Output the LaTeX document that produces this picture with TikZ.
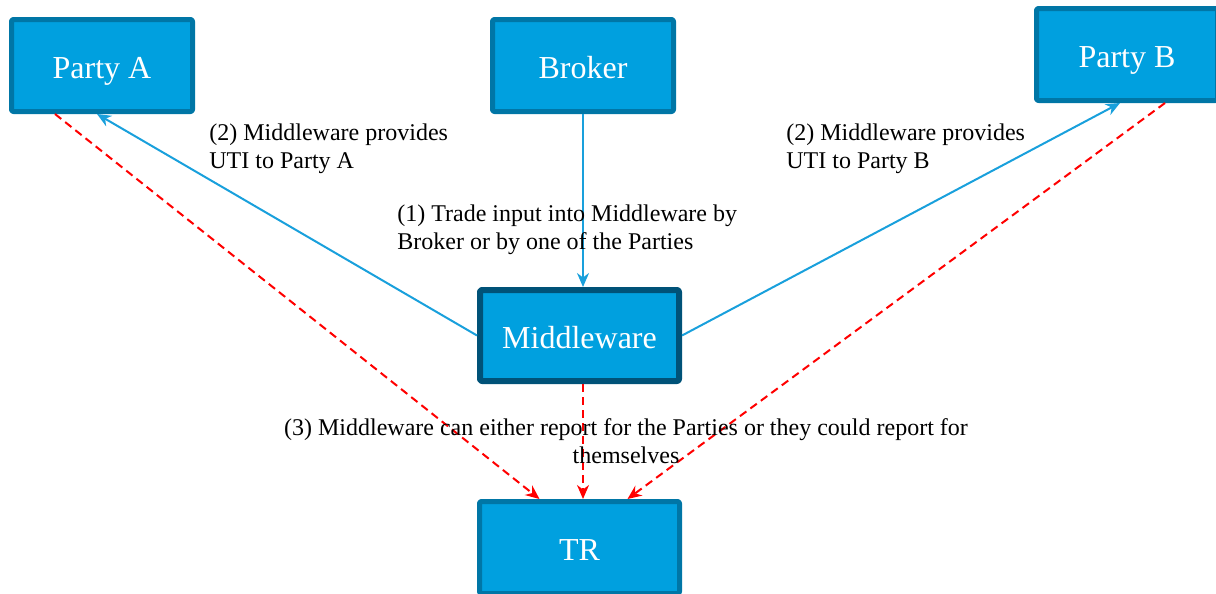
\documentclass[tikz,border=0pt]{standalone}
\usepackage{fontspec}
\setmainfont{Liberation Serif}
\usetikzlibrary{arrows.meta}
\definecolor{boxfill}{RGB}{0,160,223}
\definecolor{boxline}{RGB}{0,118,166}
\definecolor{mwline}{RGB}{0,82,120}
\definecolor{flowblue}{RGB}{25,160,220}
\begin{document}
\begin{tikzpicture}[x=0.5pt, y=-0.5pt, font=\fontsize{12}{14}\selectfont, line join=round, >={Stealth[length=7pt,width=6pt]},
	box/.style={draw=boxline, fill=boxfill, line width=2.5pt, rounded corners=1pt, minimum width=90.5pt, minimum height=46pt, text height=13pt, text depth=0pt, text=white, font=\fontsize{16}{19}\selectfont},
	wide/.style={box, minimum width=100pt},
	flow/.style={->, draw=flowblue, line width=1pt},
	rep/.style={->, draw=red, dashed, dash pattern=on 4pt off 2.5pt, line width=1pt},
	lbl/.style={inner sep=0pt, align=left, anchor=west}]
	\useasboundingbox (0,0) rectangle (1216,594);
	% boxes
	\node[box] (partyA) at (102,65.5) {Party A};
	\node[box] (broker) at (583,65.5) {Broker};
	\node[box] (partyB) at (1127,54.5) {Party B};
	\node[wide, draw=mwline, line width=3pt, minimum height=45.5pt, minimum width=99.5pt] (mw) at (579.5,335.5) {Middleware};
	\node[wide] (tr) at (579.5,547.5) {TR};
	% flows
	\draw[flow] (broker.south) -- (broker.south |- mw.north);
	\draw[flow] (mw.west) -- ([xshift=-2.5pt]partyA.south);
	\draw[flow] (mw.east) -- ([xshift=-3.5pt]partyB.south);
	% reporting
	\draw[rep] ([xshift=-23.5pt]partyA.south) -- ([xshift=-20pt]tr.north);
	\draw[rep] ([xshift=1.75pt]mw.south) -- ([xshift=1.75pt]tr.north);
	\draw[rep] ([xshift=19pt]partyB.south) -- ([xshift=24pt]tr.north);
	% labels
	\node[lbl] (lblA) at (209,149) {(2) Middleware provides\\UTI to Party A};
	\node[lbl] (lblB) at (786,149) {(2) Middleware provides\\UTI to Party B};
	\node[lbl] (lblT) at (397,229.5) {(1) Trade input into Middleware by\\Broker or by one of the Parties};
	\node[inner sep=0pt, align=center] (lblR) at (626,441) {(3) Middleware can either report for the Parties or they could report for\\themselves};
\end{tikzpicture}
\end{document}
